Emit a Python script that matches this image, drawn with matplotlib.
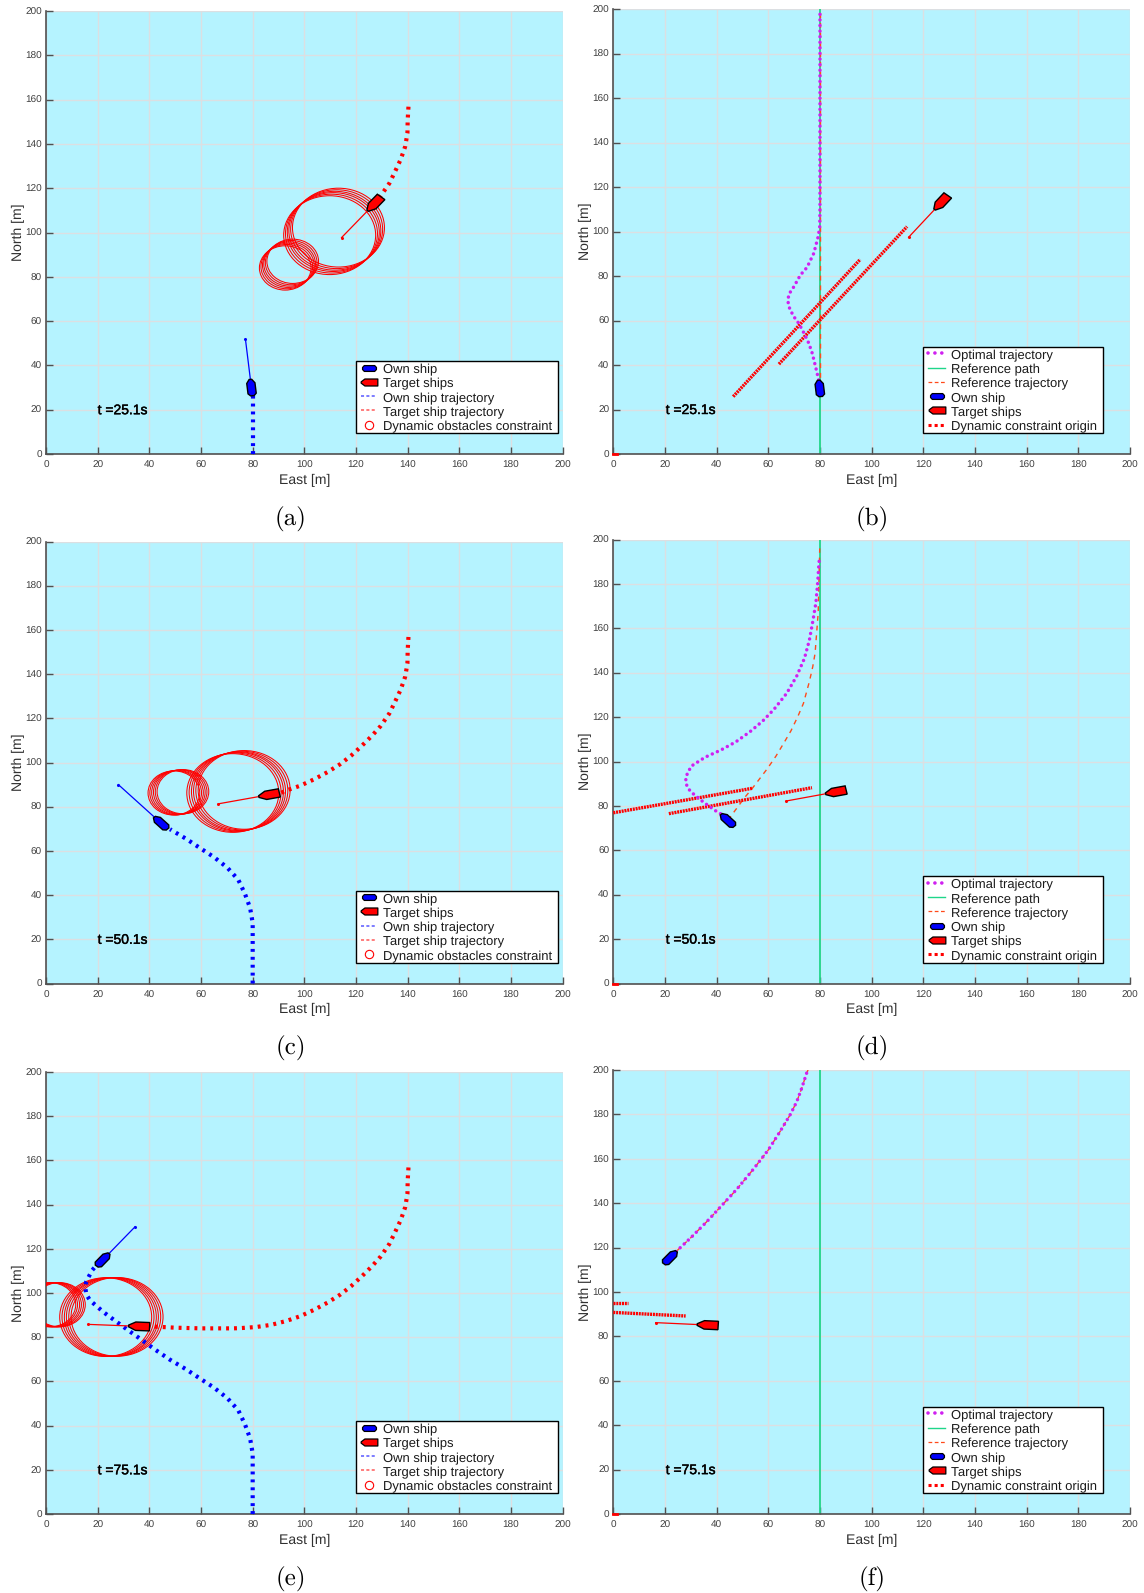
#!/usr/bin/env python3
import numpy as np
import matplotlib
matplotlib.use("Agg")
import matplotlib.pyplot as plt
import matplotlib.patheffects as pe
from matplotlib.legend_handler import HandlerLine2D
from matplotlib.lines import Line2D
from matplotlib.patches import Circle, Polygon
from matplotlib.path import Path

plt.rcParams["font.family"] = ["Liberation Sans", "DejaVu Sans"]
plt.rcParams["text.hinting"] = "no_hinting"
plt.rcParams["text.hinting_factor"] = 1

W, H = 1144, 1593
BG = "#b5f3ff"
GRID = "#dcdfe2"
AXC = "#505050"
GREEN = "#1fd68a"
ORANGE = "#ff4a1a"
MAGENTA = "#d020f0"

TICKS = list(range(0, 201, 20))
TIMES = ["t =25.1s", "t =50.1s", "t =75.1s"]
LETTERS = ["(a)", "(b)", "(c)", "(d)", "(e)", "(f)"]

# own ship trajectory, full run (east, north)
own_x = [80.0, 80.0, 80.0, 79.0, 77.0, 74.4, 70.2, 65.0, 59.6, 54.2, 48.0, 42.2, 39.6, 36.4, 33.3, 27.5, 22.3, 17.1, 15.6, 15.2, 15.6, 17.8, 19.5]
own_y = [0.0, 15.4, 27.4, 34.2, 40.6, 47.0, 52.4, 57.2, 61.3, 65.5, 69.8, 74.4, 76.6, 79.3, 81.9, 86.8, 91.3, 96.6, 99.3, 102.6, 105.2, 110.2, 112.5]
own_cut = [3, 11, 23]  # how many points are already sailed at each time

# target ship trajectory, full run
tgt_x = [140.3, 140.0, 139.9, 139.0, 137.3, 135.1, 132.9, 129.6, 126.1, 122.2, 118.1, 113.8, 108.9, 103.8, 98.4, 92.9, 87.2, 81.3, 75.1, 72.3, 60.0, 50.0, 42.0]
tgt_y = [156.8, 150.8, 144.8, 138.7, 133.0, 127.5, 122.2, 116.6, 112.0, 107.5, 103.1, 99.2, 95.6, 92.4, 89.5, 87.3, 85.6, 84.6, 84.1, 84.0, 84.0, 84.3, 84.8]
tgt_cut = [8, 16, 23]
tgt_last = [(128.5, 115.0), (90.5, 86.0), (41.0, 85.0)]

# ship poses in the left column: position then end of heading line
own_pos = [(79.5, 30.0), (44.5, 72.6), (22.0, 115.0)]
own_end = [(77.2, 51.8), (28.0, 90.0), (34.5, 130.0)]
tgt_pos = [(127.4, 113.3), (86.8, 85.5), (36.5, 84.9)]
tgt_end = [(114.4, 97.7), (66.7, 81.3), (16.4, 85.8)]

# constraint rings, left column
big_a_x = [109.8, 110.5, 111.2, 111.8, 112.5, 113.2]
big_a_y = [98.8, 99.5, 100.2, 100.8, 101.5, 102.2]
small_a_x = [92.6, 93.2, 93.8, 94.3, 94.9, 95.5]
small_a_y = [84.0, 84.6, 85.2, 85.8, 86.4, 87.0]
big_c_x = [72.3, 73.2, 74.1, 74.9, 75.8, 76.7]
big_c_y = [86.2, 86.5, 86.8, 87.0, 87.3, 87.6]
small_c_x = [49.5, 50.2, 50.9, 51.6, 52.3, 53.0]
small_c_y = [86.2, 86.3, 86.4, 86.6, 86.7, 86.8]
big_e_x = [23.1, 24.0, 24.9, 25.7, 26.6, 27.5]
big_e_y = [89.1, 89.1, 89.1, 89.2, 89.2, 89.2]
small_e_x = [1.5, 2.2, 3.0, 3.7, 4.5, 5.2]
small_e_y = [94.7, 94.7, 94.7, 94.7, 94.7, 94.7]
BIG_R = 17.8
SMALL_R = 10.0

# right column, optimal trajectories
opt_b_x = [79.5, 78.3, 77.0, 75.7, 74.0, 71.8, 69.9, 68.3, 67.6, 67.9, 69.9, 72.4, 75.0, 77.6, 79.3, 79.9, 80.0, 80.0]
opt_b_y = [33.3, 39.2, 45.3, 49.7, 53.9, 58.7, 61.7, 65.2, 68.5, 71.7, 75.2, 80.4, 83.9, 90.2, 97.7, 102.2, 111.0, 200.0]
opt_d_x = [41.5, 39.3, 35.0, 31.0, 29.2, 28.4, 28.0, 28.8, 30.3, 35.5, 41.7, 47.5, 52.9, 57.8, 62.2, 67.1, 71.0, 74.0, 75.9, 77.2, 78.4, 79.1, 79.6, 79.8]
opt_d_y = [76.5, 78.0, 81.6, 85.4, 87.5, 89.4, 92.4, 95.0, 98.0, 101.9, 105.2, 108.9, 113.4, 118.2, 123.5, 130.7, 138.5, 146.5, 154.7, 163.0, 171.3, 180.3, 189.3, 191.5]
opt_f_x = [24.3, 30.4, 36.2, 41.3, 47.8, 54.2, 60.0, 64.5, 68.4, 71.0, 72.9, 74.9, 75.4]
opt_f_y = [118.2, 124.9, 131.7, 138.1, 146.3, 155.3, 164.0, 172.2, 179.7, 185.7, 191.7, 198.8, 200.0]

# right column, reference trajectories
ref_b_x = [80.0, 80.0]
ref_b_y = [30.0, 200.0]
ref_d_x = [44.4, 47.5, 51.0, 53.6, 56.5, 59.7, 63.0, 66.1, 68.8, 71.4, 73.6, 75.9, 77.2, 78.1, 78.7, 79.3, 79.5, 79.8, 79.9]
ref_d_y = [73.6, 78.5, 84.0, 87.6, 92.0, 96.9, 102.5, 108.5, 113.9, 120.2, 126.2, 136.0, 142.7, 148.7, 157.8, 166.8, 177.2, 190.8, 196.0]

# right column, ship poses
own_pos_r = [(79.9, 29.5), (44.3, 73.5), (22.0, 115.5)]
own_head_r = [(79.5, 33.3), (41.5, 76.5), (24.3, 118.2)]
tgt_pos_r = [(127.2, 113.4), (86.6, 86.4), (37.0, 85.1)]
tgt_end_r = [(114.3, 97.4), (66.9, 82.2), (16.4, 86.2)]

# dynamic constraint origin segments: x0, y0, x1, y1
seg_b = [(46.4, 25.8, 95.6, 87.5), (64.1, 40.4, 113.7, 102.2)]
seg_d = [(0.0, 76.9, 53.7, 87.9), (21.5, 76.5, 76.9, 88.2)]
seg_f = [(0.0, 95.2, 5.7, 95.2), (0.0, 90.8, 28.0, 89.2)]


OWN_SHAPE = [(-3.7, -0.7), (-2.7, -1.6), (2.0, -1.6), (3.7, -0.5), (3.7, 0.5), (2.0, 1.6), (-2.7, 1.6), (-3.7, 0.7)]
TGT_SHAPE = [(-3.6, -1.9), (1.8, -1.9), (4.5, -0.4), (4.5, 0.4), (1.8, 1.9), (-3.6, 1.9)]
OWN_MARK = Path([(-1, -0.15), (-0.75, -0.42), (0.75, -0.42), (1, -0.15), (1, 0.15), (0.75, 0.42), (-0.75, 0.42), (-1, 0.15), (-1, -0.15)], closed=True)
TGT_MARK = Path([(1, -0.42), (-0.55, -0.42), (-1, -0.08), (-1, 0.08), (-0.55, 0.42), (1, 0.42), (1, -0.42)], closed=True)


def draw_ship(ax, pos, toward, shape, color):
    ang = np.arctan2(toward[1] - pos[1], toward[0] - pos[0])
    c, s = np.cos(ang), np.sin(ang)
    pts = [(pos[0] + c * a - s * b, pos[1] + s * a + c * b) for a, b in shape]
    ax.add_patch(Polygon(pts, closed=True, fc=color, ec="black", lw=1.0, zorder=6))


def heading_line(ax, pos, end, color):
    ax.plot([pos[0], end[0]], [pos[1], end[1]], color=color, lw=0.9, zorder=5)
    ax.plot([end[0]], [end[1]], "o", color=color, ms=1.2, zorder=5)


def time_label(ax, x, label):
    ax.text(x, 19.6, label, fontsize=10, color="black", va="center", ha="left",
            path_effects=[pe.withStroke(linewidth=0.3, foreground="black")])


def setup_axes(left, right, top, bottom=None):
    ax = fig.add_axes([left / W, 1 - bottom / H, (right - left) / W, (bottom - top) / H])
    ax.set_facecolor(BG)
    ax.set_xlim(0, 200)
    ax.set_ylim(0, 200)
    ax.set_xticks(TICKS)
    ax.set_yticks(TICKS)
    ax.grid(True, color=GRID, lw=1.0)
    ax.set_axisbelow(True)
    ax.tick_params(direction="in", length=5, width=1.0, color=AXC, labelcolor="#404040", labelsize=7.5, pad=3)
    ax.tick_params(axis="x", pad=5)
    ax.spines["top"].set_visible(False)
    ax.spines["right"].set_visible(False)
    ax.spines["left"].set_color(AXC)
    ax.spines["bottom"].set_color(AXC)
    ax.spines["left"].set_linewidth(1.2)
    ax.spines["bottom"].set_linewidth(1.2)
    ax.set_xlabel("East [m]", fontsize=10, color="#303030", labelpad=2.5)
    ax.set_ylabel("North [m]", fontsize=10, color="#303030", labelpad=0)
    return ax


def add_legend(ax, handles, box):
    left, right, bottom = box
    pos = ax.get_position()
    x0 = (left / W - pos.x0) / pos.width
    x1 = (right / W - pos.x0) / pos.width
    y0 = (1 - bottom / H - pos.y0) / pos.height
    leg = ax.legend(handles=handles, loc="lower left", bbox_to_anchor=(x0, y0, x1 - x0, 0.1), mode="expand",
                    borderaxespad=0, fontsize=9.1, labelspacing=0.17, borderpad=0.1, handlelength=1.6,
                    handletextpad=0.46, fancybox=False, framealpha=1, edgecolor="black",
                    handler_map={Line2D: HandlerLine2D(xpad=0.3)})
    leg.get_frame().set_linewidth(1.0)
    leg.set_zorder(10)
    for t in leg.get_texts():
        t.set_color("#1a1a1a")
        t.set_y(-1.5)  # rows sit a little lower inside the frame


def ship_handles():
    own = Line2D([], [], ls="none", marker=OWN_MARK, ms=10, mfc="blue", mec="black", mew=0.9, label="Own ship")
    tgt = Line2D([], [], ls="none", marker=TGT_MARK, ms=12, mfc="red", mec="black", mew=0.9, label="Target ships")
    return own, tgt


fig = plt.figure(figsize=(W / 100, H / 100), dpi=100, facecolor="white")

tops_left = [11, 541.5, 1072]
tops_right = [9, 539.5, 1070]
bottoms = [454, 983.5, 1514]
L_BOX = [(356, 557.7, 433), (356, 557.7, 962.5), (356, 557.7, 1493)]
R_BOX = [(923.3, 1103.3, 433), (923.3, 1103.3, 962.5), (923.3, 1103.3, 1493)]
rings = [(big_a_x, big_a_y, small_a_x, small_a_y), (big_c_x, big_c_y, small_c_x, small_c_y), (big_e_x, big_e_y, small_e_x, small_e_y)]
opts = [(opt_b_x, opt_b_y), (opt_d_x, opt_d_y), (opt_f_x, opt_f_y)]
refs = [(ref_b_x, ref_b_y), (ref_d_x, ref_d_y), (opt_f_x, opt_f_y)]
segs = [seg_b, seg_d, seg_f]

for i in range(3):
    # left column
    ax = setup_axes(46, 562.7, tops_left[i], bottoms[i])
    bx, by, sx, sy = rings[i]
    for cx, cy in zip(bx, by):
        ax.add_patch(Circle((cx, cy), BIG_R, fill=False, ec="red", lw=0.75, zorder=3))
    for cx, cy in zip(sx, sy):
        ax.add_patch(Circle((cx, cy), SMALL_R, fill=False, ec="red", lw=0.75, zorder=3))
    ax.plot(own_x[:own_cut[i]], own_y[:own_cut[i]], color="blue", lw=3, dashes=(0.7, 1.2), zorder=4)
    ax.plot(tgt_x[:tgt_cut[i]] + [tgt_last[i][0]], tgt_y[:tgt_cut[i]] + [tgt_last[i][1]], color="red", lw=3, dashes=(0.7, 1.2), zorder=4)
    heading_line(ax, own_pos[i], own_end[i], "blue")
    heading_line(ax, tgt_pos[i], tgt_end[i], "red")
    draw_ship(ax, own_pos[i], own_end[i], OWN_SHAPE, "blue")
    draw_ship(ax, tgt_pos[i], tgt_end[i], TGT_SHAPE, "red")
    time_label(ax, 20, TIMES[i])
    own_h, tgt_h = ship_handles()
    add_legend(ax, [own_h, tgt_h,
                    Line2D([], [], color="blue", lw=1.1, dashes=(2, 1.5), alpha=0.65, label="Own ship trajectory"),
                    Line2D([], [], color="red", lw=1.1, dashes=(2, 1.5), alpha=0.65, label="Target ship trajectory"),
                    Line2D([], [], ls="none", marker="o", ms=6, mfc="none", mec="red", mew=0.8, label="Dynamic obstacles constraint")],
               L_BOX[i])
    fig.text(291 / W, 1 - (bottoms[i] + 65) / H, LETTERS[2 * i], family="cmr10", fontsize=18, ha="center", va="center")

    # right column
    ax = setup_axes(613.3, 1130, tops_right[i], bottoms[i])
    ax.plot([80, 80], [0, 200], color=GREEN, lw=1.3, zorder=2)
    ax.plot(refs[i][0], refs[i][1], color=ORANGE, lw=1.0, dashes=(3.5, 3.5), zorder=3)
    for x0, y0, x1, y1 in segs[i]:
        ax.plot([x0, x1], [y0, y1], color="red", lw=2.4, dashes=(0.6, 0.25), zorder=4)
    ax.plot(opts[i][0], opts[i][1], color=MAGENTA, lw=2.5, dashes=(0.01, 1.6), dash_capstyle="round", zorder=5)
    ax.plot([0, 1.5], [0, 0], color="red", lw=2, clip_on=False, zorder=5)
    heading_line(ax, tgt_pos_r[i], tgt_end_r[i], "red")
    draw_ship(ax, own_pos_r[i], own_head_r[i], OWN_SHAPE, "blue")
    draw_ship(ax, tgt_pos_r[i], tgt_end_r[i], TGT_SHAPE, "red")
    time_label(ax, 20.3, TIMES[i])
    own_h, tgt_h = ship_handles()
    add_legend(ax, [Line2D([], [], color=MAGENTA, lw=2.6, dashes=(0.01, 1.9), dash_capstyle="round", label="Optimal trajectory"),
                    Line2D([], [], color=GREEN, lw=1.0, label="Reference path"),
                    Line2D([], [], color=ORANGE, lw=0.9, dashes=(3, 2), label="Reference trajectory"),
                    own_h, tgt_h,
                    Line2D([], [], color="red", lw=2.2, dashes=(1, 1), label="Dynamic constraint origin")],
               R_BOX[i])
    fig.text(872 / W, 1 - (bottoms[i] + 65) / H, LETTERS[2 * i + 1], family="cmr10", fontsize=18, ha="center", va="center")

fig.savefig("out.png", dpi=100)
